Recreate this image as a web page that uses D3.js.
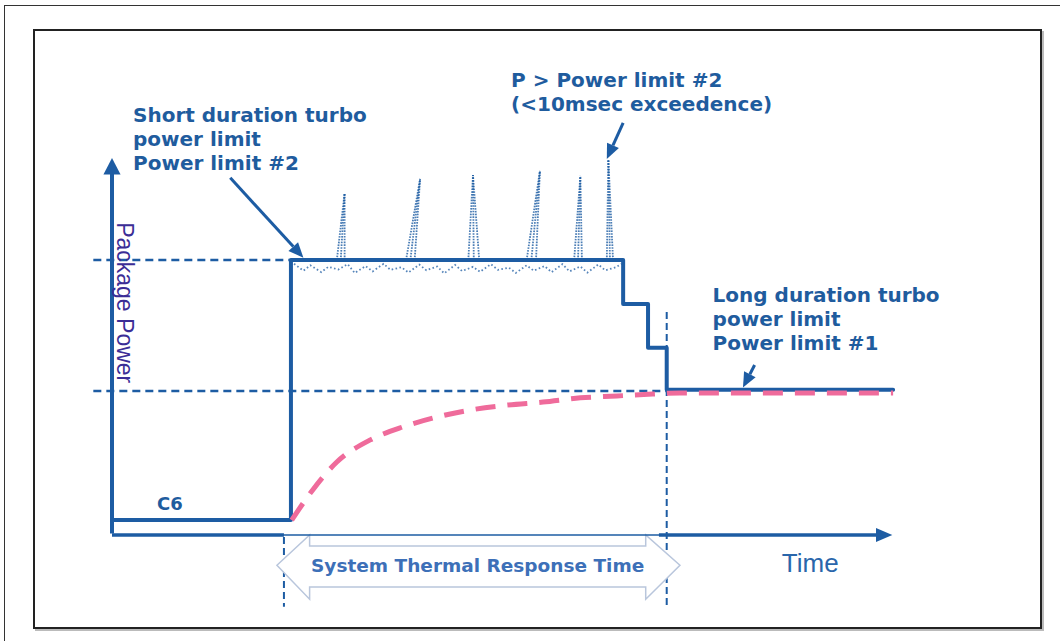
<!DOCTYPE html>
<html>
<head>
<meta charset="utf-8">
<script src="https://cdn.jsdelivr.net/npm/d3@7"></script>
<style>
  body { margin: 0; background: #fff; }
  svg { display: block; }
</style>
</head>
<body>
<script>
const w = 1060;
const h = 641;

// package power trace (time %, power %)
const stepTime  = [0, 23.0, 23.0, 65.7, 65.7, 68.9, 68.9, 71.3, 71.3, 100.4];
const stepPower = [3.9, 3.9, 72.0, 72.0, 60.5, 60.5, 49.0, 49.0, 38.0, 38.0];

// thermal response (pink dashed)
const thermTime  = [23.1, 25.8, 28.9, 33.2, 37.4, 41.8, 46.0, 50.8, 55.4, 60.2, 64.9, 69.5, 73.0, 100.4];
const thermPower = [3.9, 11.8, 19.1, 24.9, 28.3, 30.9, 32.7, 34.0, 34.8, 35.9, 36.4, 36.9, 37.2, 37.2];

// short spikes above PL2
const spikeBaseL = [28.9, 37.8, 45.8, 53.3, 59.4, 63.6];
const spikeBaseR = [29.9, 38.9, 47.2, 54.5, 60.4, 64.4];
const spikePeakX = [29.9, 39.6, 46.4, 55.0, 60.2, 63.8];
const spikePeakY = [89.5, 93.2, 94.2, 95.3, 94.0, 98.2];

// jitter just under PL2
const noiseTime  = [23.4, 24.6, 25.5, 26.9, 27.8, 29.1, 30.3, 31.2, 32.6, 33.5, 34.9, 35.8, 37.2, 38.1, 39.5, 40.4, 41.8, 42.7, 44.1, 45.0, 46.4, 47.3, 48.7, 49.6, 51.0, 51.9, 53.3, 54.2, 55.6, 56.5, 57.9, 58.8, 60.2, 61.1, 62.5, 63.4, 64.8, 65.5];
const noisePower = [71.0, 69.2, 70.6, 68.8, 70.2, 69.5, 70.9, 68.6, 70.4, 69.0, 71.0, 69.4, 70.1, 68.7, 70.8, 69.3, 70.3, 68.5, 70.7, 69.1, 70.2, 68.9, 70.9, 69.4, 70.0, 68.6, 70.6, 69.2, 70.4, 68.8, 70.9, 69.0, 70.3, 68.7, 70.8, 69.3, 70.1, 71.0];

// limit levels
const limitNames = ["PL2", "PL1"];
const limitLevel = [72.0, 37.7];
const limitStart = [-2.4, -2.4];
const limitEnd   = [23.0, 71.3];

// vertical markers for thermal response window
const markerTime = [22.1, 71.3];
const markerTop  = [-0.5, 58.4];
const markerBottom = -18.8;

// annotations
const noteLines = [
  ["Short duration turbo", "power limit", "Power limit #2"],
  ["P > Power limit #2", "(<10msec exceedence)"],
  ["Long duration turbo", "power limit", "Power limit #1"]
];
const noteX = [2.7, 51.3, 77.2];
const noteY = [108.1, 117.3, 61.0];
const pointerFrom = [[15.2, 93.5], [65.7, 107.9], [82.6, 44.5]];
const pointerTo   = [[24.6, 72.6], [63.6, 98.4], [81.1, 38.6]];

// double arrow outline (time %, power %)
const windowTime  = [21.2, 25.4, 25.4, 68.6, 68.6, 73.0, 68.6, 68.6, 25.4, 25.4];
const windowPower = [-7.9, 0, -2.9, -2.9, 0, -7.9, -16.8, -13.6, -13.6, -16.8];

const blue = "#1d5ca3";
const textBlue = "#1f5c9e";
const pink = "#ef6b9b";

const xScale = d3.scaleLinear().domain([0, 100]).range([112, 890]);
const yScale = d3.scaleLinear().domain([0, 100]).range([535, 153]);

const svg = d3.select("body").append("svg")
  .attr("width", w)
  .attr("height", h);

// frames
svg.append("rect")
  .attr("x", 4.5).attr("y", 5.5).attr("width", 1080).attr("height", 700)
  .attr("fill", "none").attr("stroke", "#333").attr("stroke-width", 1);
svg.append("rect")
  .attr("x", 36).attr("y", 32).attr("width", 1007).attr("height", 598)
  .attr("fill", "none").attr("stroke", "#bbb").attr("stroke-width", 2);
svg.append("rect")
  .attr("x", 34).attr("y", 30).attr("width", 1007).attr("height", 598)
  .attr("fill", "#fff").attr("stroke", "#222").attr("stroke-width", 2);

const line = d3.line().x(d => xScale(d[0])).y(d => yScale(d[1]));

// dashed limit lines
svg.selectAll(".limit")
  .data(limitNames)
  .enter()
  .append("line")
  .attr("class", "limit")
  .attr("x1", (d, i) => xScale(limitStart[i]))
  .attr("x2", (d, i) => xScale(limitEnd[i]))
  .attr("y1", (d, i) => yScale(limitLevel[i]))
  .attr("y2", (d, i) => yScale(limitLevel[i]))
  .attr("stroke", blue)
  .attr("stroke-width", 2.5)
  .attr("stroke-dasharray", "8,5");

// vertical dashed markers
svg.selectAll(".marker")
  .data(markerTime)
  .enter()
  .append("line")
  .attr("class", "marker")
  .attr("x1", d => xScale(d))
  .attr("x2", d => xScale(d))
  .attr("y1", (d, i) => yScale(markerTop[i]))
  .attr("y2", yScale(markerBottom))
  .attr("stroke", blue)
  .attr("stroke-width", 2)
  .attr("stroke-dasharray", "7,4");

// thermal response window double arrow
svg.append("path")
  .attr("d", line(windowTime.map((t, i) => [t, windowPower[i]])) + "Z")
  .attr("fill", "#fff")
  .attr("stroke", "#b9c6dc")
  .attr("stroke-width", 1.5);

svg.append("text")
  .attr("x", xScale(47.0))
  .attr("y", yScale(-9.7))
  .attr("text-anchor", "middle")
  .attr("font-family", "DejaVu Sans")
  .attr("font-weight", "bold")
  .attr("font-size", 18.5)
  .attr("fill", "#3d70b8")
  .text("System Thermal Response Time");

// axes
svg.append("line")
  .attr("x1", xScale(0)).attr("x2", xScale(98.6))
  .attr("y1", yScale(0)).attr("y2", yScale(0))
  .attr("stroke", blue).attr("stroke-width", 1.5);
svg.append("line")
  .attr("x1", xScale(0)).attr("x2", xScale(22.1))
  .attr("y1", yScale(0)).attr("y2", yScale(0))
  .attr("stroke", blue).attr("stroke-width", 3.5);
svg.append("line")
  .attr("x1", xScale(70.3)).attr("x2", xScale(98.6))
  .attr("y1", yScale(0)).attr("y2", yScale(0))
  .attr("stroke", blue).attr("stroke-width", 3.5);
svg.append("path")
  .attr("d", line([[98.2, 1.8], [100.3, 0], [98.2, -1.8]]) + "Z")
  .attr("fill", blue);

svg.append("line")
  .attr("x1", xScale(0)).attr("x2", xScale(0))
  .attr("y1", yScale(0.4)).attr("y2", yScale(95.5))
  .attr("stroke", blue).attr("stroke-width", 4);
svg.append("path")
  .attr("d", line([[-1.1, 94.4], [0, 98.7], [1.1, 94.4]]) + "Z")
  .attr("fill", blue);

svg.append("text")
  .attr("transform", "translate(" + xScale(0.6) + "," + yScale(81.9) + ") rotate(90)")
  .attr("font-family", "Liberation Sans")
  .attr("font-size", 23)
  .attr("fill", "#3b2d96")
  .text("Package Power");

svg.append("text")
  .attr("x", xScale(86.1))
  .attr("y", yScale(-9.7))
  .attr("font-family", "Liberation Sans")
  .attr("font-size", 26)
  .attr("fill", "#2a66ab")
  .text("Time");

// spikes
spikePeakX.forEach((px, i) => {
  const bases = [spikeBaseL[i], (spikeBaseL[i] + spikeBaseR[i]) / 2, spikeBaseR[i]];
  bases.forEach(b => {
    svg.append("path")
      .attr("d", line([[b, 72.0], [px, spikePeakY[i]]]))
      .attr("fill", "none")
      .attr("stroke", blue)
      .attr("stroke-width", 1.8)
      .attr("stroke-dasharray", "1.6,1.2")
      .attr("opacity", 0.8);
  });
});

// jitter
svg.append("path")
  .attr("d", line(noiseTime.map((t, i) => [t, noisePower[i]])))
  .attr("fill", "none")
  .attr("stroke", blue)
  .attr("stroke-width", 1.8)
  .attr("stroke-dasharray", "1.6,2.4")
  .attr("opacity", 0.75);

// main power step
svg.append("path")
  .attr("d", line(stepTime.map((t, i) => [t, stepPower[i]])))
  .attr("fill", "none")
  .attr("stroke", blue)
  .attr("stroke-width", 4)
  .attr("stroke-linejoin", "round")
  .attr("stroke-linecap", "round");

// thermal curve
svg.append("path")
  .attr("d", d3.line().x(d => xScale(d[0])).y(d => yScale(d[1])).curve(d3.curveMonotoneX)(thermTime.map((t, i) => [t, thermPower[i]])))
  .attr("fill", "none")
  .attr("stroke", pink)
  .attr("stroke-width", 5)
  .attr("stroke-dasharray", "20,12");

// annotations
noteLines.forEach((lines, i) => {
  const t = svg.append("text")
    .attr("font-family", "DejaVu Sans")
    .attr("font-weight", "bold")
    .attr("font-size", 20)
    .attr("fill", textBlue);
  lines.forEach((s, j) => {
    t.append("tspan")
      .attr("x", xScale(noteX[i]))
      .attr("y", yScale(noteY[i]) + j * 24)
      .text(s);
  });
});

svg.append("text")
  .attr("x", xScale(5.8))
  .attr("y", yScale(6.5))
  .attr("font-family", "DejaVu Sans")
  .attr("font-weight", "bold")
  .attr("font-size", 18)
  .attr("fill", textBlue)
  .text("C6");

// pointer arrows
pointerFrom.forEach((f, i) => {
  const x1 = xScale(f[0]), y1 = yScale(f[1]);
  const x2 = xScale(pointerTo[i][0]), y2 = yScale(pointerTo[i][1]);
  const a = Math.atan2(y2 - y1, x2 - x1);
  const hl = 15, hw = 6.5;
  const bx = x2 - hl * Math.cos(a), by = y2 - hl * Math.sin(a);
  svg.append("line")
    .attr("x1", x1).attr("y1", y1).attr("x2", bx).attr("y2", by)
    .attr("stroke", blue).attr("stroke-width", 3);
  svg.append("polygon")
    .attr("points", [
      [x2, y2],
      [bx + hw * Math.sin(a), by - hw * Math.cos(a)],
      [bx - hw * Math.sin(a), by + hw * Math.cos(a)]
    ].map(p => p.join(",")).join(" "))
    .attr("fill", blue);
});
</script>
</body>
</html>
